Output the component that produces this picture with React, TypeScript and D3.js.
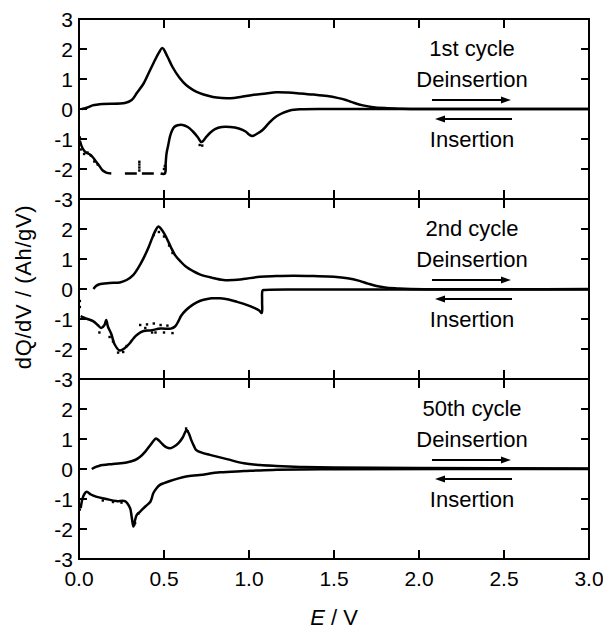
import React from 'react';
import * as d3 from 'd3';

type P = [number, number | null];

const xTickValues = [0, 0.5, 1, 1.5, 2, 2.5, 3];
const xTickLabels = ['0.0', '0.5', '1.0', '1.5', '2.0', '2.5', '3.0'];
const yTickValues = [-3, -2, -1, 0, 1, 2, 3];
const yTickLabelsFirst = [-3, -2, -1, 0, 1, 2, 3];
const yTickLabelsOther = [-3, -2, -1, 0, 1, 2];
const cycleLabels = ['1st cycle', '2nd cycle', '50th cycle'];

// 1st cycle
const deins1: P[] = [
  [0.016, 0], [0.05, 0.05], [0.08, 0.12], [0.14, 0.17], [0.27, 0.2], [0.31, 0.3], [0.34, 0.53],
  [0.38, 0.85], [0.41, 1.2], [0.44, 1.55], [0.47, 1.88], [0.49, 2.03], [0.52, 1.75], [0.55, 1.4],
  [0.59, 1.05], [0.63, 0.8], [0.67, 0.64], [0.71, 0.53], [0.76, 0.44], [0.81, 0.38], [0.89, 0.36],
  [0.95, 0.4], [1.02, 0.47], [1.1, 0.52], [1.16, 0.56], [1.23, 0.55], [1.3, 0.52], [1.38, 0.48],
  [1.46, 0.43], [1.52, 0.37], [1.57, 0.3], [1.62, 0.2], [1.67, 0.12], [1.72, 0.07], [1.8, 0.03],
  [1.9, 0.01], [2.0, 0], [2.5, 0], [3.0, 0],
];
const ins1: P[] = [
  [3.0, 0], [2.0, 0], [1.5, 0], [1.3, -0.01], [1.24, -0.05], [1.2, -0.13], [1.16, -0.25],
  [1.12, -0.45], [1.08, -0.7], [1.04, -0.85], [1.02, -0.9], [1.0, -0.85], [0.98, -0.75],
  [0.94, -0.65], [0.89, -0.6], [0.84, -0.6], [0.8, -0.67], [0.77, -0.8], [0.75, -0.92],
  [0.72, -1.1], [0.7, -0.95], [0.67, -0.75], [0.64, -0.6], [0.61, -0.53], [0.58, -0.54],
  [0.56, -0.6], [0.545, -0.75], [0.535, -0.92], [0.525, -1.2], [0.515, -1.48], [0.51, -1.8],
  [0.505, -2.15], [0.48, -2.15], [0.475, null], [0.44, -2.15], [0.37, -2.15], [0.36, null],
  [0.34, -2.15], [0.27, -2.15], [0.22, null], [0.19, -2.15], [0.16, -2.12], [0.14, -2.05],
  [0.12, -1.9], [0.1, -1.75], [0.08, -1.6], [0.06, -1.5], [0.04, -1.45], [0.02, -1.3], [0.005, -1.05],
];
const noise1: P[] = [
  [0.355, -1.76], [0.355, -1.85], [0.355, -1.95], [0.355, -2.05], [0.01, -1.35], [0.03, -1.5],
  [0.05, -1.45], [0.07, -1.55], [0.09, -1.75], [0.11, -1.85], [0.71, -1.2], [0.725, -1.22],
  [0.005, -0.95], [0.5, -2.0], [0.505, -1.9],
];

// 2nd cycle
const deins2: P[] = [
  [0.085, 0], [0.1, 0.1], [0.12, 0.16], [0.18, 0.2], [0.24, 0.22], [0.28, 0.3], [0.32, 0.47],
  [0.35, 0.72], [0.38, 1.03], [0.41, 1.4], [0.43, 1.69], [0.45, 1.95], [0.467, 2.08], [0.49, 1.95],
  [0.515, 1.7], [0.54, 1.4], [0.565, 1.13], [0.6, 0.9], [0.63, 0.74], [0.67, 0.6], [0.71, 0.49],
  [0.78, 0.38], [0.85, 0.3], [0.91, 0.3], [0.965, 0.33], [1.065, 0.41], [1.16, 0.43], [1.26, 0.44],
  [1.38, 0.43], [1.5, 0.41], [1.58, 0.36], [1.65, 0.27], [1.7, 0.18], [1.75, 0.1], [1.8, 0.05],
  [1.87, 0.02], [1.95, 0], [3.0, 0],
];
const ins2: P[] = [
  [3.0, -0.02], [1.5, -0.02], [1.09, -0.03], [1.08, -0.05], [1.077, -0.4], [1.075, -0.8],
  [1.06, -0.72], [1.03, -0.63], [0.986, -0.53], [0.93, -0.43], [0.88, -0.35], [0.83, -0.31],
  [0.78, -0.31], [0.74, -0.35], [0.71, -0.4], [0.67, -0.52], [0.63, -0.7], [0.6, -0.9],
  [0.585, -1.07], [0.565, -1.25], [0.54, -1.32], [0.48, -1.32], [0.42, -1.38], [0.38, -1.4],
  [0.34, -1.53], [0.32, -1.65], [0.3, -1.8], [0.27, -1.97], [0.24, -2.05], [0.21, -1.85],
  [0.19, -1.5], [0.17, -1.25], [0.16, -1.03], [0.15, -1.2], [0.13, -1.3], [0.11, -1.2],
  [0.085, -1.08], [0.05, -1.0], [0.025, -0.95], [0.01, -0.9],
];
const noise2: P[] = [
  [0.36, -1.2], [0.4, -1.18], [0.44, -1.15], [0.48, -1.2], [0.52, -1.22], [0.5, -1.45],
  [0.45, -1.45], [0.55, -1.47], [0.26, -2.1], [0.23, -2.12], [0.28, -1.9], [0.005, -0.4],
  [0.005, -0.6], [0.12, -1.45], [0.18, -1.6], [0.2, -1.75], [0.39, -1.3], [0.43, -1.45],
  [0.47, 1.9], [0.5, 1.75], [0.53, 1.45], [0.55, 1.2], [0.44, 1.8],
];

// 50th cycle
const deins3: P[] = [
  [0.075, 0], [0.1, 0.07], [0.12, 0.11], [0.2, 0.17], [0.28, 0.22], [0.33, 0.3], [0.36, 0.41],
  [0.39, 0.58], [0.42, 0.8], [0.44, 0.95], [0.453, 1.02], [0.47, 0.95], [0.496, 0.8],
  [0.515, 0.72], [0.535, 0.69], [0.56, 0.75], [0.585, 0.86], [0.61, 1.05], [0.633, 1.3],
  [0.645, 1.2], [0.66, 0.97], [0.675, 0.78], [0.69, 0.63], [0.73, 0.53], [0.77, 0.47],
  [0.87, 0.33], [0.97, 0.19], [1.065, 0.13], [1.16, 0.1], [1.3, 0.07], [1.5, 0.05], [2.0, 0.03],
  [3.0, 0.02],
];
const ins3: P[] = [
  [3.0, 0], [1.5, -0.01], [1.14, -0.03], [0.97, -0.07], [0.83, -0.11], [0.71, -0.2],
  [0.63, -0.25], [0.58, -0.32], [0.535, -0.4], [0.5, -0.47], [0.476, -0.53], [0.455, -0.65],
  [0.437, -0.81], [0.42, -1.09], [0.39, -1.25], [0.36, -1.42], [0.34, -1.53], [0.33, -1.7],
  [0.32, -1.92], [0.31, -1.6], [0.3, -1.3], [0.27, -1.07], [0.22, -1.07], [0.16, -1.0],
  [0.1, -0.92], [0.07, -0.85], [0.045, -0.76], [0.03, -0.85], [0.02, -1.0], [0.01, -1.3],
];
const noise3: P[] = [
  [0.005, -1.35], [0.008, -1.2], [0.25, -1.12], [0.2, -1.1], [0.14, -1.05], [0.325, -1.85],
  [0.33, -1.8], [0.35, -1.48], [0.63, 1.35], [0.64, 1.25],
];

const deinsSeries = [deins1, deins2, deins3];
const insSeries = [ins1, ins2, ins3];
const noiseSeries = [noise1, noise2, noise3];

const FONT = "Arial, 'Liberation Sans', sans-serif";

export default function App() {
  const left = 79;
  const right = 589;
  const panelTops = [19, 199, 379];
  const panelH = 180;
  const x = d3.scaleLinear().domain([0, 3]).range([left, right]);

  return (
    <svg width={603} height={630} style={{ position: 'absolute', left: 0, top: 0, display: 'block' }} fontFamily={FONT}>
      <rect x={0} y={0} width={603} height={630} fill="#fff" />
      {panelTops.map((top, i) => {
        const y = d3.scaleLinear().domain([-3, 3]).range([top + panelH, top]);
        const line = d3
          .line<P>()
          .defined((d) => d[1] !== null)
          .x((d) => x(d[0]))
          .y((d) => y(d[1] as number))
          .curve(d3.curveCatmullRom.alpha(0.5));
        const labels = i === 0 ? yTickLabelsFirst : yTickLabelsOther;
        const cx = 472;
        return (
          <g key={i}>
            <path d={line(deinsSeries[i]) || ''} fill="none" stroke="#000" strokeWidth={2.5} />
            <path d={line(insSeries[i]) || ''} fill="none" stroke="#000" strokeWidth={2.5} />
            {noiseSeries[i].map((d, k) => (
              <rect key={k} x={x(d[0]) - 1.2} y={y(d[1] as number) - 1.2} width={2.4} height={2.4} fill="#000" />
            ))}
            <rect x={left} y={top} width={right - left} height={panelH} fill="none" stroke="#000" strokeWidth={2} />
            {xTickValues.map((v, k) => (
              <g key={k}>
                <line x1={x(v)} x2={x(v)} y1={top} y2={top + 9} stroke="#000" strokeWidth={2} />
                <line x1={x(v)} x2={x(v)} y1={top + panelH} y2={top + panelH - 9} stroke="#000" strokeWidth={2} />
              </g>
            ))}
            {yTickValues.map((v, k) => (
              <g key={k}>
                <line x1={left} x2={left + 8} y1={y(v)} y2={y(v)} stroke="#000" strokeWidth={2} />
                <line x1={right} x2={right - 8} y1={y(v)} y2={y(v)} stroke="#000" strokeWidth={2} />
              </g>
            ))}
            {labels.map((v, k) => (
              <text key={k} x={73} y={y(v) + 7.5} textAnchor="end" fontSize={21} fill="#000">
                {v}
              </text>
            ))}
            <text x={cx} y={top + 37} textAnchor="middle" fontSize={22} fill="#000">
              {cycleLabels[i]}
            </text>
            <text x={cx} y={top + 68} textAnchor="middle" fontSize={22} fill="#000">
              Deinsertion
            </text>
            <line x1={432} x2={503} y1={top + 81} y2={top + 81} stroke="#000" strokeWidth={2} />
            <polygon points={`${511},${top + 81} ${501},${top + 77.5} ${501},${top + 84.5}`} fill="#000" />
            <line x1={443} x2={512} y1={top + 100} y2={top + 100} stroke="#000" strokeWidth={2} />
            <polygon points={`${435},${top + 100} ${445},${top + 96.5} ${445},${top + 103.5}`} fill="#000" />
            <text x={cx} y={top + 128} textAnchor="middle" fontSize={22} fill="#000">
              Insertion
            </text>
          </g>
        );
      })}
      {xTickValues.map((v, k) => (
        <text key={k} x={x(v)} y={586} textAnchor="middle" fontSize={21} fill="#000">
          {xTickLabels[k]}
        </text>
      ))}
      <text x={(left + right) / 2} y={625} textAnchor="middle" fontSize={22} fill="#000">
        <tspan fontStyle="italic">E</tspan> / V
      </text>
      <text transform="translate(31,287) rotate(-90)" textAnchor="middle" fontSize={22} letterSpacing={0.6} fill="#000">
        dQ/dV / (Ah/gV)
      </text>
    </svg>
  );
}
